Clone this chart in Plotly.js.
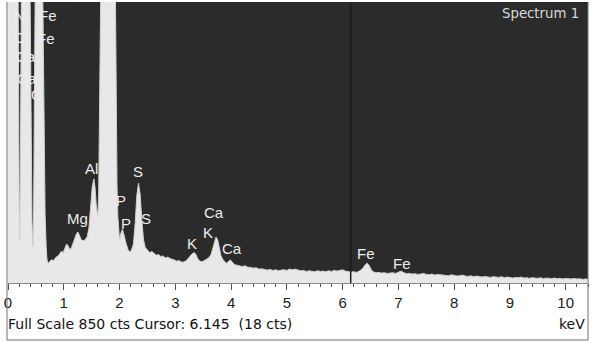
<!DOCTYPE html>
<html>
<head>
<meta charset="utf-8">
<script src="https://cdn.plot.ly/plotly-3.0.1.min.js"></script>
<style>html,body{margin:0;padding:0;background:#fff;}#chart{width:596px;height:342px;}</style>
</head>
<body>
<div id="chart"></div>
<script>
// Spectrum channels (keV) and counts
const energy = [
0.00,0.10,0.15,0.17,0.185,0.20,0.21,0.22,0.235,0.25,0.27,0.34,0.37,0.395,0.415,0.43,0.445,0.46,0.475,0.49,
0.51,0.58,0.61,0.625,0.645,0.665,0.685,0.70,0.72,0.75,0.78,0.82,0.86,0.90,0.93,0.96,0.99,1.02,1.05,1.08,
1.11,1.14,1.17,1.20,1.23,1.255,1.28,1.31,1.34,1.38,1.42,1.45,1.48,1.51,1.54,1.56,1.585,1.61,1.625,1.64,
1.655,1.67,1.70,1.79,1.88,1.91,1.925,1.94,1.955,1.97,1.985,2.00,2.02,2.05,2.07,2.09,2.12,2.15,2.18,2.21,
2.25,2.28,2.31,2.34,2.37,2.40,2.43,2.46,2.50,2.54,2.58,2.62,2.66,2.70,2.74,2.78,2.82,2.86,2.90,2.94,
2.98,3.02,3.06,3.10,3.14,3.18,3.22,3.26,3.30,3.34,3.37,3.40,3.44,3.48,3.52,3.56,3.60,3.64,3.67,3.70,
3.73,3.76,3.79,3.82,3.85,3.88,3.91,3.94,3.98,4.02,4.06,4.10,4.15,4.20,4.25,4.30,4.35,4.40,4.45,4.50,
4.55,4.60,4.65,4.70,4.75,4.80,4.85,4.90,4.95,5.00,5.05,5.10,5.15,5.20,5.25,5.30,5.35,5.40,5.45,5.50,
5.55,5.60,5.65,5.70,5.75,5.80,5.85,5.90,5.95,6.00,6.05,6.10,6.15,6.20,6.25,6.30,6.35,6.40,6.44,6.48,
6.52,6.56,6.60,6.65,6.70,6.75,6.80,6.85,6.90,6.95,7.00,7.05,7.10,7.15,7.20,7.25,7.30,7.35,7.40,7.45,
7.50,7.55,7.60,7.65,7.70,7.75,7.80,7.85,7.90,7.95,8.00,8.05,8.10,8.15,8.20,8.25,8.30,8.35,8.40,8.45,
8.50,8.55,8.60,8.65,8.70,8.75,8.80,8.85,8.90,8.95,9.00,9.05,9.10,9.15,9.20,9.25,9.30,9.35,9.40,9.45,
9.50,9.55,9.60,9.65,9.70,9.75,9.80,9.85,9.90,9.95,10.00,10.05,10.10,10.15,10.20,10.25,10.30,10.35,10.40
];
const counts = [
3000,3000,2000,1100,600,260,130,280,700,1400,3000,3000,1800,900,400,190,110,220,600,1300,
3000,3000,1100,800,420,210,110,70,60,64,70,68,78,82,88,96,92,104,118,112,
100,108,122,138,150,154,146,132,128,130,140,165,225,290,315,290,230,205,260,450,
750,1000,2500,6000,2500,1200,850,500,300,200,150,130,148,162,152,135,118,102,94,98,
118,180,265,302,268,190,130,108,98,92,95,88,84,86,80,82,76,78,74,72,
70,66,68,64,63,66,72,80,88,92,86,74,66,64,68,70,76,86,105,128,
139,130,104,82,72,64,60,62,70,64,56,54,52,50,52,48,47,45,46,42,
43,40,39,41,38,40,37,39,40,38,42,40,42,39,37,38,35,37,36,34,
37,35,36,34,37,35,38,36,38,40,36,34,33,34,32,36,42,54,60,52,
38,33,31,32,30,31,29,30,31,29,32,36,31,28,29,27,28,26,27,29,
26,25,27,24,26,25,23,24,22,25,23,21,22,24,21,20,22,19,21,20,
18,20,19,17,19,18,17,19,16,18,17,15,17,16,18,15,16,14,16,15,
14,16,13,15,14,13,15,13,14,12,14,13,12,14,12,13,11,12,12
];
// Peak labels: element, energy (keV), height (cts)
const peakLabels = ["N","Fe","C","Fe","Ca","Ca","O","Mg","Al","P","P","S","S","K","K","Ca","Ca","Fe","Fe"];
const peakLabelX = [0.21,0.71,0.21,0.68,0.32,0.34,0.52,1.25,1.49,2.02,2.11,2.33,2.47,3.30,3.58,3.69,4.02,6.42,7.06];
const peakLabelY = [808,808,744,741,684,619,569,194,345,251,181,336,194,121,154,212,103,88,60];
const xTickVals = [0,1,2,3,4,5,6,7,8,9,10];
const xTickText = ["0","1","2","3","4","5","6","7","8","9","10"];
const fullScale = 850;
const cursorKeV = 6.145;
const spectrumName = "Spectrum 1";
const footerText = "Full Scale 850 cts Cursor: 6.145  (18 cts)";
const unitText = "keV";

const FONT = '"Liberation Sans", Arial, sans-serif';
const WIDE = '"DejaVu Sans", sans-serif';
const W = 596, H = 342, ML = 8, MR = 8, MT = 2, MB = 59;
const PW = W - ML - MR, PH = H - MT - MB;
const px2paperX = p => (p - ML) / PW;
const px2paperY = p => (H - MB - p) / PH;

const annotations = peakLabels.map((t, i) => ({
  x: peakLabelX[i], y: peakLabelY[i], xref: 'x', yref: 'y', text: t, showarrow: false,
  font: {family: FONT, size: 15, color: '#ececec'}, xanchor: 'center', yanchor: 'middle'
}));
annotations.push({x: px2paperX(581), y: px2paperY(14), xref: 'paper', yref: 'paper', text: spectrumName,
  showarrow: false, xanchor: 'right', yanchor: 'middle', font: {family: WIDE, size: 13.3, color: '#d8d8d8'}});
annotations.push({x: px2paperX(6), y: px2paperY(324), xref: 'paper', yref: 'paper', text: footerText,
  showarrow: false, xanchor: 'left', yanchor: 'middle', font: {family: WIDE, size: 14, color: '#111'}});
annotations.push({x: px2paperX(587), y: px2paperY(324), xref: 'paper', yref: 'paper', text: unitText,
  showarrow: false, xanchor: 'right', yanchor: 'middle', font: {family: WIDE, size: 14, color: '#111'}});

const shapes = [
  {type: 'line', xref: 'x', yref: 'paper', x0: cursorKeV, x1: cursorKeV, y0: 0, y1: 1,
   line: {color: '#1c1c1c', width: 1.5}, layer: 'above'},
  {type: 'line', xref: 'paper', yref: 'paper', x0: px2paperX(7), x1: px2paperX(7), y0: px2paperY(340), y1: 1,
   line: {color: '#707070', width: 1}, layer: 'above'},
  {type: 'line', xref: 'paper', yref: 'paper', x0: px2paperX(588), x1: px2paperX(588), y0: px2paperY(340), y1: 1,
   line: {color: '#707070', width: 1}, layer: 'above'},
  {type: 'line', xref: 'paper', yref: 'paper', x0: px2paperX(7), x1: px2paperX(588), y0: px2paperY(340), y1: px2paperY(340),
   line: {color: '#707070', width: 1}, layer: 'above'}
];

const trace = {
  x: energy, y: counts, type: 'scatter', mode: 'lines', fill: 'tozeroy',
  fillcolor: '#e8e8e8', line: {color: '#cfcfcf', width: 1}, hoverinfo: 'skip'
};

const layout = {
  width: W, height: H, margin: {l: ML, r: MR, t: MT, b: MB, pad: 0},
  paper_bgcolor: '#ffffff', plot_bgcolor: '#2b2b2b', showlegend: false,
  xaxis: {range: [0, 10.4], tickvals: xTickVals, ticktext: xTickText, ticks: 'outside', ticklen: 6,
    tickcolor: '#555', tickwidth: 1, showgrid: false, zeroline: false, showline: true, linecolor: '#8a8a8a',
    linewidth: 1, tickfont: {family: FONT, size: 15, color: '#222'},
    minor: {dtick: 0.2, tick0: 0, ticks: 'outside', ticklen: 3, tickcolor: '#555', showgrid: false}},
  yaxis: {range: [0, fullScale], showticklabels: false, showgrid: false, zeroline: false, ticks: '', showline: false},
  annotations: annotations, shapes: shapes
};

Plotly.newPlot('chart', [trace], layout, {staticPlot: true, displayModeBar: false});
</script>
</body>
</html>
